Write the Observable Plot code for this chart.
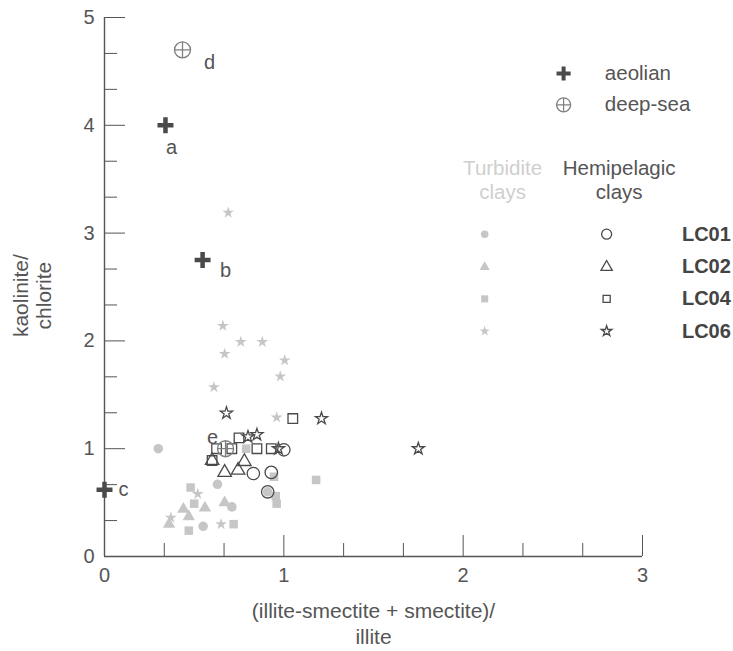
<!DOCTYPE html>
<html><head><meta charset="utf-8">
<script src="https://cdn.jsdelivr.net/npm/d3@7"></script>
<script src="https://cdn.jsdelivr.net/npm/@observablehq/plot@0.6"></script>
<style>body{margin:0;background:#fff}</style>
</head><body><div id="chart"></div>
<script>
// ---- data ----
const cores = ["LC01", "LC02", "LC04", "LC06"];
const turbidite_LC01 = [[0.30,1.00],[0.63,0.67],[0.55,0.28],[0.71,0.46],[0.91,0.60]];
const turbidite_LC02 = [[0.44,0.44],[0.56,0.45],[0.47,0.37],[0.67,0.50],[0.36,0.30]];
const turbidite_LC04 = [[0.48,0.64],[0.50,0.49],[0.47,0.24],[0.72,0.30],[0.79,1.00],[0.945,0.74],[0.955,0.56],[0.96,0.49],[1.18,0.71]];
const turbidite_LC06 = [[0.69,3.19],[0.66,2.14],[0.76,1.99],[0.88,1.99],[0.67,1.88],[1.005,1.82],[0.98,1.67],[0.61,1.57],[0.96,1.29],[0.37,0.36],[0.65,0.30],[0.52,0.58]];
const hemipelagic_LC01 = [[0.83,0.77],[0.93,0.78],[1.00,0.99],[0.91,0.60]];
const hemipelagic_LC02 = [[0.60,0.89],[0.67,0.78],[0.745,0.80],[0.78,0.88]];
const hemipelagic_LC04 = [[0.60,0.89],[0.625,1.00],[0.71,1.00],[0.75,1.10],[0.85,1.00],[0.93,1.00],[1.05,1.28]];
const hemipelagic_LC06 = [[0.68,1.33],[0.80,1.11],[0.85,1.13],[0.97,1.00],[1.21,1.28],[1.75,1.00]];
const aeolian = [["a",0.34,4.00],["b",0.547,2.75],["c",0.00,0.62]];
const deepSea = [["d",0.435,4.70],["e",0.675,1.00]];
const xMajorTicks = [0, 1, 2, 3];
const yMajorTicks = [0, 1, 2, 3, 4, 5];
const xLabel = "(illite-smectite + smectite)/\nillite";
const yLabel = "kaolinite/\nchlorite";
const refLegend = ["aeolian", "deep-sea"];
const groupHeaders = ["Turbidite\nclays", "Hemipelagic\nclays"];

// ---- styles / layout ----
const DARK = "#4a4a4a", LIGHT = "#c6c6c6";
const style = {
  LC01: {symbol: "circle",   rT: 4.8, rH: 6.2, rTL: 3.8, rHL: 5},
  LC02: {symbol: "triangle", rT: 4.6, rH: 5.0, rTL: 3.8, rHL: 4.2},
  LC04: {symbol: "square",   rT: 4.8, rH: 5.4, rTL: 4.0, rHL: 4.0},
  LC06: {symbol: "star",     rT: 3.7, rH: 3.8, rTL: 3.2, rHL: 3.3}
};
const labelOffsets = {a: [6, 22], b: [23, 11], c: [19, 0], d: [27, 13], e: [-13, -11]};
// legend anchors in data space
const legendRefX = 2.56, legendRefTextX = 2.79, legendRefY = [4.48, 4.19];
const colTurbX = 2.12, colHemiX = 2.80, headerY = 3.50, lcTextX = 3.22;
const rowY = [2.99, 2.685, 2.39, 2.09];
const yLabelAt = 2.42;

const toRows = (arr) => arr.map(([x, y]) => ({x, y}));
const marks = [];
const fmt = d => String(d);

// axes lines
marks.push(Plot.ruleY([0], {stroke: "#555", strokeWidth: 1.4}));
marks.push(Plot.ruleX([0], {stroke: "#555", strokeWidth: 1.4}));
const xMinor = d3.range(0, 10).map(i => i / 3).filter((v, i) => i % 3 !== 0);
const yMinor = d3.range(0, 16).map(i => i / 3).filter((v, i) => i % 3 !== 0);
marks.push(Plot.axisX(xMinor, {tickSize: -13, tickFormat: () => "", stroke: "#555", label: null}));
marks.push(Plot.axisX(xMajorTicks, {tickSize: -21, tickFormat: () => "", stroke: "#555", label: null}));
marks.push(Plot.axisX(xMajorTicks, {tickSize: 0, tickPadding: 11, tickFormat: fmt, fontSize: 20, fill: "#555", label: null}));
marks.push(Plot.axisY(yMinor, {tickSize: -13, tickFormat: () => "", stroke: "#555", label: null}));
marks.push(Plot.axisY(yMajorTicks, {tickSize: -21, tickFormat: () => "", stroke: "#555", label: null}));
marks.push(Plot.axisY(yMajorTicks, {tickSize: 0, tickPadding: 10, tickFormat: fmt, fontSize: 20, fill: "#555", label: null}));

// axis labels
marks.push(Plot.text([xLabel], {frameAnchor: "bottom", lineAnchor: "top", dy: 43, lineHeight: 1.25, fontSize: 21, fill: "#555"}));
marks.push(Plot.text([yLabel], {x: 0, y: yLabelAt, rotate: -90, dx: -72, lineHeight: 1.1, fontSize: 21, fill: "#555"}));

// turbidite (filled light)
const turb = {LC01: turbidite_LC01, LC02: turbidite_LC02, LC04: turbidite_LC04, LC06: turbidite_LC06};
const hemi = {LC01: hemipelagic_LC01, LC02: hemipelagic_LC02, LC04: hemipelagic_LC04, LC06: hemipelagic_LC06};
for (const c of cores) {
  marks.push(Plot.dot(toRows(turb[c]), {x: "x", y: "y", symbol: style[c].symbol, r: style[c].rT, fill: LIGHT, stroke: "none"}));
}
for (const c of cores) {
  marks.push(Plot.dot(toRows(hemi[c]), {x: "x", y: "y", symbol: style[c].symbol, r: style[c].rH, fill: "none", stroke: DARK, strokeWidth: 1.3}));
}

// reference points
const aeo = aeolian.map(([k, x, y]) => ({k, x, y}));
const deep = deepSea.map(([k, x, y]) => ({k, x, y}));
marks.push(Plot.dot(aeo, {x: "x", y: "y", symbol: "plus", r: 5.2, stroke: DARK, strokeWidth: 4.5}));
marks.push(Plot.dot(deep, {x: "x", y: "y", symbol: "circle", r: 8, fill: "none", stroke: "#808080", strokeWidth: 1.4}));
marks.push(Plot.dot(deep, {x: "x", y: "y", symbol: "plus", r: 5.2, stroke: "#808080", strokeWidth: 1.3}));
for (const d of [...aeo, ...deep]) {
  const [dx, dy] = labelOffsets[d.k];
  marks.push(Plot.text([d], {x: "x", y: "y", text: "k", dx, dy, fontSize: 20, fill: "#555"}));
}

// legend: reference
marks.push(Plot.dot([refLegend[0]], {x: legendRefX, y: legendRefY[0], symbol: "plus", r: 4.6, stroke: DARK, strokeWidth: 4}));
marks.push(Plot.dot([refLegend[1]], {x: legendRefX, y: legendRefY[1], symbol: "circle", r: 7, fill: "none", stroke: "#808080", strokeWidth: 1.3}));
marks.push(Plot.dot([refLegend[1]], {x: legendRefX, y: legendRefY[1], symbol: "plus", r: 4.5, stroke: "#808080", strokeWidth: 1.2}));
marks.push(Plot.text(refLegend, {x: legendRefTextX, y: (d, i) => legendRefY[i], text: d => d, textAnchor: "start", fontSize: 20.5, fill: "#555"}));

// legend: groups
marks.push(Plot.text([groupHeaders[0]], {x: 2.22, y: headerY, text: d => d, lineHeight: 1.15, fontSize: 20.5, fill: "#cfcfcf"}));
marks.push(Plot.text([groupHeaders[1]], {x: 2.87, y: headerY, text: d => d, lineHeight: 1.15, fontSize: 20.5, fill: "#555"}));
cores.forEach((c, i) => {
  marks.push(Plot.dot([c], {x: colTurbX, y: rowY[i], symbol: style[c].symbol, r: style[c].rTL, fill: LIGHT, stroke: "none"}));
  marks.push(Plot.dot([c], {x: colHemiX, y: rowY[i], symbol: style[c].symbol, r: style[c].rHL, fill: "none", stroke: DARK, strokeWidth: 1.3}));
});
marks.push(Plot.text(cores, {x: lcTextX, y: (d, i) => rowY[i], text: d => d, textAnchor: "start", fontSize: 20, fontWeight: "bold", fill: "#444"}));

const chart = Plot.plot({
  width: 733, height: 651,
  marginLeft: 104, marginRight: 91, marginTop: 17, marginBottom: 95,
  x: {domain: [0, 3]},
  y: {domain: [0, 5]},
  style: {fontFamily: "'Liberation Sans', Arial, sans-serif", fontSize: "20px", color: "#555", background: "#fff", overflow: "visible"},
  marks
});
document.getElementById("chart").appendChild(chart);
</script>
</body></html>
